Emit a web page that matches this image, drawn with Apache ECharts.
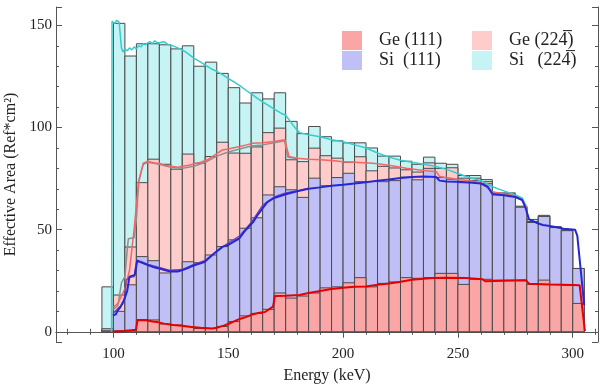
<!DOCTYPE html>
<html>
<head>
<meta charset="utf-8">
<script src="https://cdn.jsdelivr.net/npm/echarts@6/dist/echarts.min.js"></script>
<style>
html,body{margin:0;padding:0;background:#fff}
#main{width:600px;height:389px}
</style>
</head>
<body>
<div id="main"></div>
<script>
// bin edges, keV
var binEdges = [95,100,105,110,115,120,125,130,135,140,145,150,155,160,165,170,175,180,185,190,195,200,
    205,210,215,220,225,230,235,240,245,250,255,260,265,270,275,280,285,290,295,300,305];
// histogram heights per bin
var siB = [22,151,135,141,141,140.5,138.5,140,130,132,126.5,119.5,112,117,114,117,103,97,100.5,95.5,93.5,
    92.5,92.5,90,86,86,83.5,82,85.5,82.5,82,76.5,76.5,74.5,68,68,61.5,55,57,51.5,50,31];
var geB = [1,18,41.5,73,84.5,82,79.6,87,82.5,85.8,92.8,87.5,87.4,90.5,97.5,99.7,84.2,83.3,89.9,86.2,85,
    83,85.7,78.8,81,80.2,79.3,78.2,82.7,80,80.3,75.2,75.2,73.5,67,67,61,54,56.5,51,49.5,30];
var siA = [1.5,10,23,36.8,34.8,28.8,30.2,34.3,33.8,37.6,41.7,45,50.7,55.8,67,71,69.5,65.8,75.2,71.5,75.5,
    77.6,73.5,73.5,73.5,74,75.7,74.4,80,75.5,74.7,73,74,72.5,67,67.5,61,53.5,56.5,51,49.5,31];
var geA = [0.5,0.5,0.7,6,5.8,3.8,3.3,2.5,1.6,1.6,2.6,5,7.8,9,11,19,16.5,17.5,19,21.5,22,24,26.5,22,23.7,
    24.4,26.5,26.2,26.5,28.6,28.6,23.2,25.7,25.7,25.3,25.3,25.3,23.2,25.3,23.2,22.9,13.9];

// simulated curves [energy, area]
var siBCurve = [[99.2,0],[99.4,152],[100.5,151],[101.5,152.5],[102.5,151.5],[103.2,151],[103.5,139],[104.2,137],
    [105,138.5],[106,137.5],[107,139],[108,138],[109,139.5],[110,138.5],[111,140],[112,139.5],[113,141],[114,140.5],
    [115,141.5],[116,142],[117,141],[118,142.5],[119,141.5],[120,141.5],[122,142],[124,140.5],[126,140],[128,139],
    [130,138],[132,136.5],[135,134],[138,132],[140,130.5],[143,128.5],[145,127.5],[148,125.5],[150,124],[153,122],
    [155,120.5],[158,118],[160,116.5],[163,114],[165,112.5],[168,110.5],[170,109],[173,107],[175,106],[177,103],
    [179,100],[181,97.5],[185,96.5],[190,95.5],[195,94],[200,93],[205,91.5],[210,90],[215,87.5],[220,85.5],[225,84],
    [230,83],[235,82],[240,81],[245,79.5],[250,77.5],[255,75.5],[260,74],[265,71],[270,69],[275,67],[278,65.5],[280,61]];
var grayCurve = [[100,11],[102,13],[103.5,24],[105,27],[106,40],[106.5,45.5],[109,46],[110,55],[111,74],[113,82],
    [115,83],[120,82],[125,80.5],[130,80],[135,81],[140,83],[145,86],[150,88],[155,89.5],[160,91],[165,91.5],
    [170,92.5],[174.5,93.5],[176,85.5],[180,84.8]];
var geBCurve = [[100,12],[102,14],[105,21],[107,30],[109,50],[110,62],[111,73],[112,78],[113,82.5],[115,83.5],
    [118,82.5],[120,82.5],[122,81.5],[125,81],[128,80.5],[130,81],[133,81.5],[135,82.2],[138,83],[141,84.2],
    [144,86.5],[147.5,89],[150,89.5],[155,90.7],[158,91.5],[160.7,92.3],[165,92.5],[170,93.1],[174.7,94],[175.5,90],
    [176.5,85.8],[180,85],[185,84.5],[190,84.2],[195,83.8],[200,83.3],[205,83],[213,82.5],[220,81.5],[227.6,80.1],
    [235,79],[240.6,78.4],[242,76],[245,75.5],[250,74.5],[255,74],[260,73],[265,68.5],[270,67.5],[275,66.5],
    [278,64.5],[280,60.5]];
var purpleCurve = [[100,9],[102,11.5],[104,13.5],[105,17],[105.5,25.5],[107,26.5],[109,27],[110,34],[112,34.5],
    [115,33],[120,31.5],[125,30],[130,30.5],[135,33],[140,35],[145,39.5],[150,43.5],[155,47],[160,53.5],[165,62],
    [170,66],[175,68],[180,69],[185,70.3]];
var siACurve = [[99.8,8],[101,8.5],[102,10.6],[103,12],[104.6,15.5],[106,20],[107,27],[109.3,27.8],[110.4,35],
    [112,34],[115,32.7],[118,31.5],[120,31],[123,30],[125,29.5],[128,29.5],[130,30.2],[133,31.5],[135.5,32.7],
    [138,33.5],[140,34.5],[142,36.5],[144,38.4],[147.6,41.7],[150,42.5],[153,44.5],[155,46],[157,49],[159,51.5],
    [161,54],[163,57.5],[165,60.5],[167,63.5],[170,65.5],[175,67.3],[180,68.8],[185,70],[190,70.7],[195,71.5],
    [200,72],[205,72.6],[210,73.2],[215,74],[220,74.6],[225,75.3],[230,75.8],[235,76],[240.5,75.8],[242,74],
    [245,73.6],[250,73.5],[255,73.1],[260,72.6],[263,71],[265,67.5],[270,66.8],[275,66],[278,64.5],[279.5,60.5],
    [281,55],[285,53],[287,52.3],[290,51.8],[293,51.2],[296,50.5],[301,50],[302,47],[305,13]];
var geACurve = [[100,0],[105,0.4],[109.8,1],[110.5,5.7],[113,5.8],[115,5.5],[117,5],[119,4.8],[122,4],[126,3.3],
    [130,3],[134,2.4],[138,2],[143,1.6],[145,2],[148,3],[150,3.8],[153,5.3],[155,6.3],[158,7.3],[160,8.3],[163,9.2],
    [166,9.7],[169.5,12.3],[170.3,17.5],[175,17.6],[181,18],[185,19],[190,20],[195,20.9],[200,21.5],[205,22],
    [210,22.2],[215,23],[220,23.6],[224.5,24.4],[230,25.5],[235,26],[239,26.3],[245,26.4],[253.5,26.3],[260.7,25.7],
    [262,24.7],[270,25],[279.6,25.2],[281,23.5],[290,23.2],[300,22.9],[303,22.8],[305.3,0.3]];

var serif = '"Liberation Serif","Times New Roman",serif';
var axisColor = '#555';

function binData(vals) {
    var out = [];
    for (var i = 0; i < vals.length; i++) {
        out.push([binEdges[i], binEdges[i + 1], vals[i]]);
    }
    return out;
}

function histSeries(name, vals, color) {
    return {
        name: name,
        type: 'custom',
        itemStyle: {color: color},
        encode: {x: [0, 1], y: 2},
        data: binData(vals),
        renderItem: function (params, api) {
            var p0 = api.coord([api.value(0), api.value(2)]);
            var p1 = api.coord([api.value(1), 0]);
            return {
                type: 'rect',
                shape: {x: p0[0], y: p0[1], width: p1[0] - p0[0], height: p1[1] - p0[1]},
                style: {fill: color, stroke: '#4a4a4a', lineWidth: 1}
            };
        }
    };
}

function curve(name, data, color, width) {
    return {
        name: name,
        type: 'line',
        data: data,
        symbol: 'none',
        showSymbol: false,
        lineStyle: {color: color, width: width},
        itemStyle: {color: color},
        z: 3,
        silent: true
    };
}

function valueAxis(extra) {
    var ax = {
        type: 'value',
        splitNumber: 5,
        minInterval: 50,
        maxInterval: 50,
        splitLine: {show: false},
        axisLine: {show: true, lineStyle: {color: axisColor, width: 1}},
        axisTick: {show: true, inside: true, length: 6, lineStyle: {color: axisColor}},
        minorTick: {show: true, splitNumber: 5, length: 3, lineStyle: {color: axisColor}},
        axisLabel: {show: false}
    };
    for (var k in extra) ax[k] = extra[k];
    return ax;
}

function tickLabel(margin) {
    return {
        show: true,
        margin: margin,
        fontFamily: serif,
        fontSize: 15,
        color: '#222',
        showMinLabel: false,
        showMaxLabel: false,
        formatter: function (v) { return v % 50 === 0 ? String(v) : ''; }
    };
}

var legendText = {fontFamily: serif, fontSize: 18, color: '#222', padding: [0, 0, 0, 12]};

var myChart = echarts.init(document.getElementById('main'), null, {renderer: 'canvas'});
var option = {
    animation: false,
    backgroundColor: '#fff',
    grid: {left: 56, right: 2, top: 7, bottom: 47, outerBoundsMode: 'none'},
    legend: [{
        data: ['Ge (111)', 'Si  (111)'],
        orient: 'vertical', left: 337, top: 26,
        itemWidth: 20, itemHeight: 19, itemGap: 1, icon: 'rect',
        selectedMode: false, textStyle: legendText
    }, {
        data: ['Ge (22\u0034\u0305)', 'Si   (22\u0034\u0305)'],
        orient: 'vertical', left: 467, top: 26,
        itemWidth: 20, itemHeight: 19, itemGap: 1, icon: 'rect',
        selectedMode: false, textStyle: legendText
    }],
    xAxis: [
        valueAxis({
            min: 75, max: 311, position: 'bottom',
            axisLabel: tickLabel(5),
            name: 'Energy (keV)', nameLocation: 'middle', nameGap: 26,
            nameTextStyle: {fontFamily: serif, fontSize: 16, color: '#222'}
        }),
        valueAxis({min: 75, max: 311, position: 'top'})
    ],
    yAxis: [
        valueAxis({
            min: -5, max: 159, position: 'left',
            axisLabel: tickLabel(4),
            name: 'Effective Area (Ref*cm\u00b2)', nameLocation: 'middle', nameGap: 31,
            nameTextStyle: {fontFamily: serif, fontSize: 16, color: '#222'}
        }),
        valueAxis({min: -5, max: 159, position: 'right'})
    ],
    series: [
        histSeries('Si   (22\u0034\u0305)', siB, '#c6f4f4'),
        histSeries('Ge (22\u0034\u0305)', geB, '#ffcccc'),
        histSeries('Si  (111)', siA, '#c0c0f6'),
        histSeries('Ge (111)', geA, '#fba6a6'),
        curve('siBCurve', siBCurve, '#36cccc', 1.5),
        curve('grayCurve', grayCurve, '#8f8f8f', 1.5),
        curve('geBCurve', geBCurve, '#f26666', 1.5),
        curve('purpleCurve', purpleCurve, '#7a40b0', 1.3),
        curve('siACurve', siACurve, '#2626d4', 2),
        curve('geACurve', geACurve, '#e40000', 2)
    ]
};
myChart.setOption(option);
</script>
</body>
</html>
